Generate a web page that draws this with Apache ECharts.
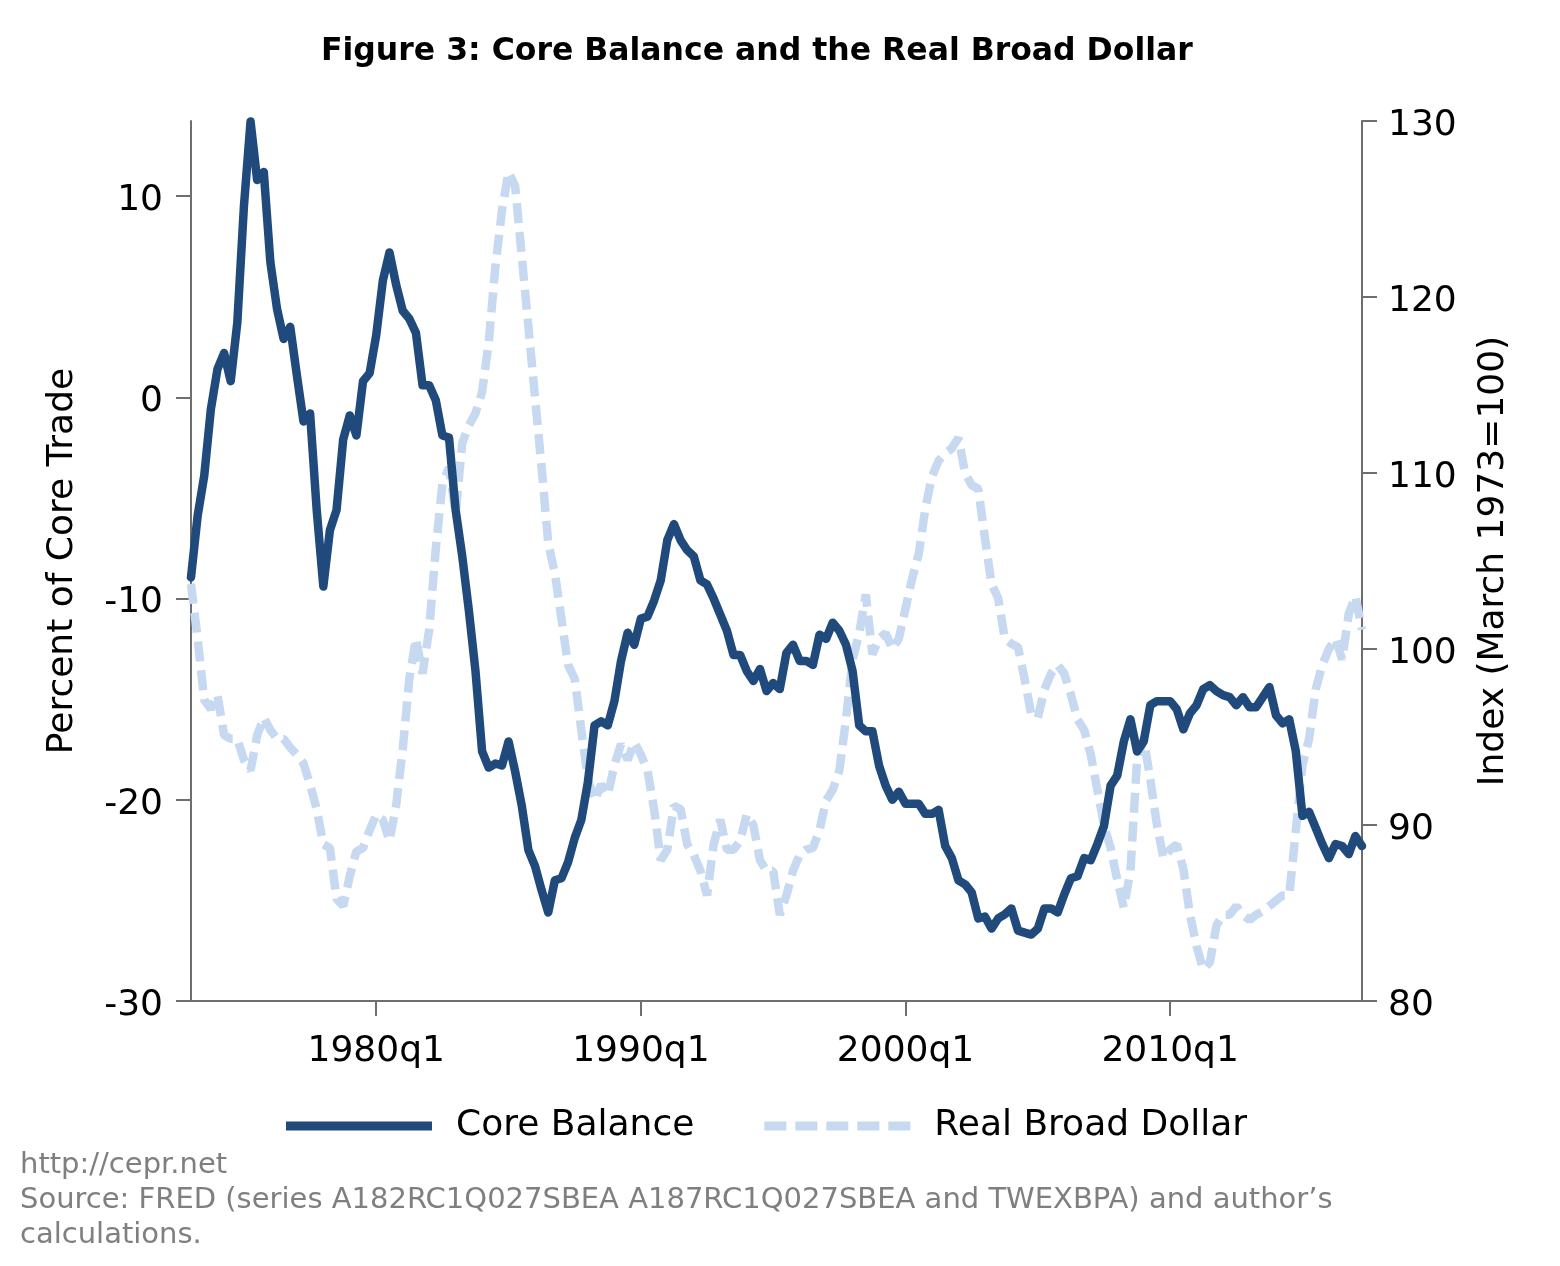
<!DOCTYPE html>
<html>
<head>
<meta charset="utf-8">
<script src="https://cdn.jsdelivr.net/npm/echarts@6/dist/echarts.min.js"></script>
<style>
  html, body { margin: 0; padding: 0; background: #fff; }
  #myCharts { width: 1560px; height: 1266px; }
</style>
</head>
<body>
<div id="myCharts"></div>
<script>
// quarters 1973q1 .. 2017q2
const quarters = [];
for (let y = 1973; y <= 2017; y++) {
  for (let q = 1; q <= 4; q++) {
    if (y === 2017 && q > 2) break;
    quarters.push(y + "q" + q);
  }
}
const xTickLabels = ["1980q1", "1990q1", "2000q1", "2010q1"];
const leftTicks = [-30, -20, -10, 0, 10];
const rightTicks = [80, 90, 100, 110, 120, 130];

// Core Balance, percent of core trade
const coreBalance = [
  -8.95, -5.9, -3.9, -0.6, 1.4, 2.2, 0.8, 3.7, 9.5, 13.7,
  10.8, 11.2, 6.7, 4.4, 2.9, 3.5, 1.1, -1.2, -0.8, -5.6,
  -9.4, -6.6, -5.6, -2.1, -0.9, -1.9, 0.8, 1.2, 3.1, 5.8,
  7.2, 5.6, 4.3, 3.9, 3.2, 0.6, 0.6, -0.15, -1.9, -2.0,
  -5.6, -7.9, -10.6, -13.6, -17.6, -18.4, -18.2, -18.3, -17.1, -18.6,
  -20.3, -22.5, -23.3, -24.5, -25.6, -24.0, -23.9, -23.1, -21.9, -21.0,
  -19.1, -16.3, -16.1, -16.3, -15.1, -13.1, -11.7, -12.3, -11.0, -10.9,
  -10.1, -9.1, -7.1, -6.3, -7.1, -7.6, -7.9, -9.1, -9.3, -10.0,
  -10.8, -11.6, -12.8, -12.8, -13.6, -14.1, -13.5, -14.6, -14.2, -14.5,
  -12.7, -12.3, -13.1, -13.1, -13.3, -11.8, -12.0, -11.2, -11.6, -12.3,
  -13.6, -16.3, -16.6, -16.6, -18.3, -19.3, -20.0, -19.6, -20.2, -20.2,
  -20.2, -20.7, -20.7, -20.5, -22.3, -22.9, -24.0, -24.2, -24.6, -25.9,
  -25.8, -26.4, -25.9, -25.7, -25.4, -26.5, -26.6, -26.7, -26.4, -25.4,
  -25.4, -25.6, -24.7, -23.9, -23.8, -22.9, -23.0, -22.2, -21.3, -19.3,
  -18.8, -17.1, -16.0, -17.6, -17.1, -15.3, -15.1, -15.1, -15.1, -15.5,
  -16.5, -15.7, -15.3, -14.5, -14.3, -14.6, -14.8, -14.9, -15.3, -14.9,
  -15.4, -15.4, -14.9, -14.4, -15.8, -16.2, -16.0, -17.6, -20.8, -20.6,
  -21.4, -22.2, -22.9, -22.2, -22.3, -22.7, -21.8, -22.3
];

// Real Broad Dollar, index March 1973 = 100
const realBroadDollar = [
  103.7, 100.6, 97.1, 96.6, 97.4, 95.1, 94.9, 94.9, 93.7, 93.1,
  95.1, 96.1, 95.4, 94.9, 94.9, 94.4, 94.0, 93.5, 92.3, 90.9,
  88.9, 88.7, 85.8, 85.4, 87.1, 88.5, 88.7, 89.7, 90.6, 90.3,
  89.1, 91.1, 94.3, 98.3, 100.6, 98.6, 101.1, 105.7, 109.4, 110.3,
  107.7, 111.7, 112.7, 113.4, 114.6, 117.4, 121.7, 124.9, 127.1, 126.3,
  122.3, 118.3, 114.3, 110.3, 106.0, 104.3, 101.7, 99.1, 98.3, 95.4,
  92.6, 91.4, 92.3, 91.7, 93.4, 94.6, 93.7, 94.7, 94.0, 93.1,
  90.9, 88.0, 88.6, 91.1, 90.9, 88.9, 88.3, 87.4, 86.0, 88.9,
  90.3, 88.6, 88.6, 89.1, 90.6, 90.0, 88.0, 87.4, 87.4, 84.9,
  86.0, 87.4, 88.3, 88.6, 88.7, 89.7, 91.4, 92.0, 93.1, 96.0,
  99.4, 100.9, 103.1, 99.7, 100.6, 100.9, 100.0, 100.6, 102.3, 104.0,
  105.4, 108.0, 109.8, 110.7, 111.1, 111.4, 112.0, 110.0, 109.3, 109.1,
  106.3, 103.7, 102.9, 100.6, 100.3, 100.1, 98.3, 96.3, 96.1, 97.7,
  98.6, 99.1, 98.6, 97.4, 96.0, 95.4, 94.0, 92.0, 90.0, 88.7,
  86.9, 85.3, 87.4, 93.7, 94.9, 92.6, 90.0, 88.1, 88.6, 88.9,
  87.5, 84.9, 83.1, 81.8, 82.2, 84.3, 84.9, 84.9, 85.4, 84.9,
  84.6, 84.9, 85.1, 85.4, 85.7, 86.0, 86.0, 89.7, 93.4, 94.9,
  97.7, 99.1, 100.0, 100.6, 99.4, 102.0, 103.0, 101.1
];

const FONT = "DejaVu Sans";
const axisGray = "#6e6e6e";
const navy = "#1f4a7b";
const lightBlue = "#c6d9f0";

// y tick labels sit a little below their ticks in the original
const yLabelRich = { a: { fontFamily: FONT, fontSize: 36, color: "#000", padding: [9, 0, 0, 0] } };
const yLabelFmt = function (v) { return "{a|" + v + "}"; };

const myCharts = echarts.init(document.getElementById("myCharts"));
const option = {
  backgroundColor: "#ffffff",
  animation: false,
  title: {
    text: "Figure 3: Core Balance and the Real Broad Dollar",
    left: 316,
    top: 31,
    textStyle: { fontFamily: FONT, fontWeight: "bold", fontSize: 31.5, color: "#000" }
  },
  legend: {
    bottom: 117,
    left: 281,
    itemWidth: 146,
    itemHeight: 9,
    itemGap: 70,
    textStyle: { fontFamily: FONT, fontSize: 36, color: "#000", padding: [0, 0, 0, 19] },
    data: [
      { name: "Core Balance", icon: "rect", itemStyle: { color: navy, borderWidth: 0 } },
      {
        name: "Real Broad Dollar",
        // five dashes, same look as the series line
        icon: "path://M0,0h22v9h-22z M31,0h22v9h-22z M62,0h22v9h-22z M93,0h22v9h-22z M124,0h22v9h-22z",
        itemStyle: { color: lightBlue, borderWidth: 0 }
      }
    ]
  },
  grid: { left: 191, right: 198, top: 121, bottom: 265 },
  xAxis: {
    type: "category",
    boundaryGap: false,
    data: quarters,
    axisLine: { onZero: false, lineStyle: { color: axisGray, width: 2 } },
    axisTick: {
      length: 15,
      lineStyle: { color: axisGray, width: 2 },
      interval: function (i, v) { return xTickLabels.indexOf(v) >= 0; }
    },
    axisLabel: {
      fontFamily: FONT, fontSize: 36, color: "#000", margin: 33,
      interval: function (i, v) { return xTickLabels.indexOf(v) >= 0; }
    },
    splitLine: { show: false }
  },
  yAxis: [
    {
      type: "value",
      position: "left",
      min: -30,
      max: 13.73,
      name: "Percent of Core Trade",
      nameLocation: "middle",
      nameRotate: 90,
      nameGap: 110,
      nameTextStyle: { fontFamily: FONT, fontSize: 36, color: "#000" },
      axisLine: { show: true, lineStyle: { color: axisGray, width: 2 } },
      axisTick: { show: true, length: 15, customValues: leftTicks, lineStyle: { color: axisGray, width: 2 } },
      axisLabel: { margin: 28, customValues: leftTicks, formatter: yLabelFmt, rich: yLabelRich },
      splitLine: { show: false }
    },
    {
      type: "value",
      position: "right",
      min: 80,
      max: 130,
      interval: 10,
      name: "Index (March 1973=100)",
      nameLocation: "middle",
      nameRotate: 90,
      nameGap: 114,
      nameTextStyle: { fontFamily: FONT, fontSize: 36, color: "#000" },
      axisLine: { show: true, lineStyle: { color: axisGray, width: 2 } },
      axisTick: { show: true, length: 15, customValues: rightTicks, lineStyle: { color: axisGray, width: 2 } },
      axisLabel: { margin: 26, customValues: rightTicks, formatter: yLabelFmt, rich: yLabelRich },
      splitLine: { show: false }
    }
  ],
  series: [
    {
      name: "Real Broad Dollar",
      type: "line",
      yAxisIndex: 1,
      data: realBroadDollar,
      symbol: "none",
      z: 2,
      itemStyle: { color: lightBlue },
      lineStyle: { color: lightBlue, width: 8.5, type: [20, 9], cap: "butt" }
    },
    {
      name: "Core Balance",
      type: "line",
      yAxisIndex: 0,
      data: coreBalance,
      symbol: "none",
      z: 3,
      itemStyle: { color: navy },
      lineStyle: { color: navy, width: 8.5, join: "round", cap: "round" }
    }
  ],
  graphic: [
    {
      type: "text", left: 20, top: 1151,
      style: { text: "http://cepr.net", fontFamily: FONT, fontSize: 29, fill: "#7f7f7f" }
    },
    {
      type: "text", left: 20, top: 1186,
      style: { text: "Source: FRED (series A182RC1Q027SBEA A187RC1Q027SBEA and TWEXBPA) and author\u2019s", fontFamily: FONT, fontSize: 29, fill: "#7f7f7f" }
    },
    {
      type: "text", left: 20, top: 1221,
      style: { text: "calculations.", fontFamily: FONT, fontSize: 29, fill: "#7f7f7f" }
    }
  ]
};
myCharts.setOption(option);
</script>
</body>
</html>
